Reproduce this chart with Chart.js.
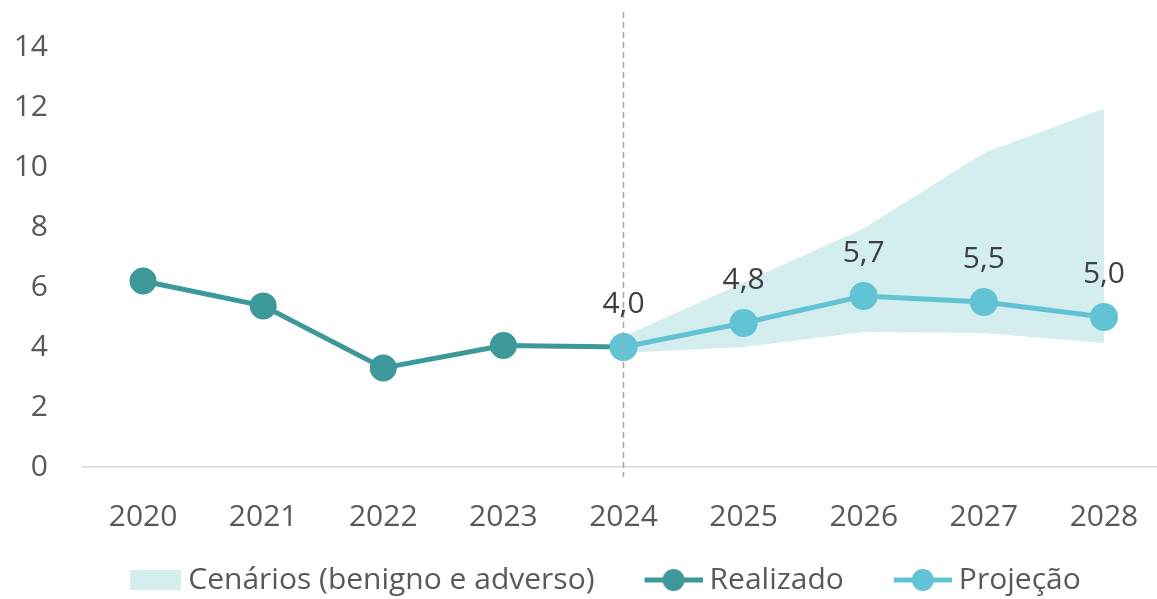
<!DOCTYPE html>
<html>
<head>
<meta charset="utf-8">
<script src="https://cdn.jsdelivr.net/npm/chart.js@4/dist/chart.umd.min.js"></script>
<style>
    html, body { margin: 0; padding: 0; background: #fff; overflow: hidden; }
    #wrap { width: 1157px; height: 599px; overflow: hidden; }
    #wrap canvas { display: block; }
</style>
</head>
<body>
<div id="wrap"><canvas id="chart" width="1164" height="599"></canvas></div>
<script>
const years = ['2020', '2021', '2022', '2023', '2024', '2025', '2026', '2027', '2028']
const realizado = [6.2, 5.37, 3.3, 4.05, 4.0, null, null, null, null]
const projecao = [null, null, null, null, 4.0, 4.8, 5.7, 5.5, 5.0]
const cenarioMin = [null, null, null, null, 3.8, 4.0, 4.5, 4.47, 4.13]
const cenarioMax = [null, null, null, null, 4.35, 6.15, 7.95, 10.47, 11.95]
const yTicks = [0, 2, 4, 6, 8, 10, 12, 14]

const fontName = '"Open Sans", "Noto Sans", sans-serif'
const tealDark = '#3D9899'
const tealLight = '#62C3D4'
const bandColor = '#D4EDEF'

// legend markers: drawn at the right end of an 80px canvas so the text sits close
function lineMarker(color) {
    const c = document.createElement('canvas')
    c.width = 80
    c.height = 24
    const ctx = c.getContext('2d')
    ctx.strokeStyle = color
    ctx.lineWidth = 5
    ctx.beginPath()
    ctx.moveTo(22, 12)
    ctx.lineTo(80, 12)
    ctx.stroke()
    ctx.fillStyle = color
    ctx.beginPath()
    ctx.arc(51, 12, 11, 0, Math.PI * 2)
    ctx.fill()
    return c
}

function boxMarker(color) {
    const c = document.createElement('canvas')
    c.width = 80
    c.height = 20
    const ctx = c.getContext('2d')
    ctx.fillStyle = color
    ctx.fillRect(29, 0, 51, 20)
    return c
}

const markers = [boxMarker(bandColor), null, lineMarker(tealDark), lineMarker(tealLight)]

const legendHeight = {
    id: 'legendHeight',
    beforeLayout(chart) {
        const lg = chart.legend
        if (lg && !lg._fixed) {
            const fit = lg.fit
            lg.fit = function () {
                fit.call(this)
                this.height = 70
            }
            lg._fixed = true
        }
    },
    afterLayout(chart) {
        // nudge the legend a little to the right
        chart.legend.left += 13
        chart.legend.right += 13
    }
}

const dividerLine = {
    id: 'dividerLine',
    afterDatasetsDraw(chart) {
        const ctx = chart.ctx
        const x = chart.scales.x.getPixelForValue(4)
        ctx.save()
        ctx.strokeStyle = '#A6A6A6'
        ctx.lineWidth = 1.5
        ctx.setLineDash([6, 4])
        ctx.beginPath()
        ctx.moveTo(x, 12)
        ctx.lineTo(x, chart.chartArea.bottom + 10)
        ctx.stroke()
        ctx.restore()
    }
}

const valueLabels = {
    id: 'valueLabels',
    afterDatasetsDraw(chart) {
        const ctx = chart.ctx
        const meta = chart.getDatasetMeta(3)
        ctx.save()
        ctx.font = '30px ' + fontName
        ctx.fillStyle = '#404040'
        ctx.textAlign = 'center'
        ctx.textBaseline = 'middle'
        meta.data.forEach((pt, i) => {
            const v = projecao[i]
            if (v === null) return
            ctx.fillText(v.toFixed(1).replace('.', ','), pt.x, pt.y - 43)
        })
        ctx.restore()
    }
}

new Chart(document.getElementById('chart'), {
    type: 'line',
    data: {
        labels: years,
        datasets: [
            {
                label: 'Cenários (benigno e adverso)',
                data: cenarioMax,
                borderWidth: 0,
                pointRadius: 0,
                backgroundColor: bandColor,
                fill: '+1',
                order: 3
            },
            {
                label: 'min',
                data: cenarioMin,
                borderWidth: 0,
                pointRadius: 0,
                fill: false,
                order: 3
            },
            {
                label: 'Realizado',
                data: realizado,
                borderColor: tealDark,
                backgroundColor: tealDark,
                borderWidth: 5,
                pointRadius: 11,
                pointHoverRadius: 11,
                order: 2
            },
            {
                label: 'Projeção',
                data: projecao,
                borderColor: tealLight,
                backgroundColor: tealLight,
                borderWidth: 5,
                pointRadius: 11.5,
                pointHoverRadius: 11.5,
                order: 1
            }
        ]
    },
    options: {
        responsive: false,
        animation: false,
        layout: {
            autoPadding: false,
            padding: { top: 47, left: 0, right: 0, bottom: 0 }
        },
        plugins: {
            legend: {
                position: 'bottom',
                labels: {
                    usePointStyle: true,
                    pointStyleWidth: 64,
                    padding: 36,
                    color: '#595959',
                    font: { family: fontName, size: 30 },
                    filter: item => item.datasetIndex !== 1,
                    generateLabels: chart => chart.data.datasets.map((ds, i) => ({
                        text: ds.label,
                        datasetIndex: i,
                        pointStyle: markers[i],
                        fillStyle: 'transparent',
                        strokeStyle: 'transparent',
                        lineWidth: 0,
                        fontColor: '#595959'
                    }))
                }
            },
            tooltip: { enabled: false }
        },
        scales: {
            x: {
                offset: true,
                afterFit: scale => { scale.height = 62 },
                grid: { display: false },
                border: { color: '#D9D9D9', width: 1.5 },
                ticks: {
                    color: '#595959',
                    padding: 24,
                    font: { family: fontName, size: 30 }
                }
            },
            y: {
                min: 0,
                max: 14,
                afterFit: scale => { scale.width = 83 },
                afterBuildTicks: scale => { scale.ticks = yTicks.map(v => ({ value: v })) },
                grid: { display: false },
                border: { display: false },
                ticks: {
                    color: '#595959',
                    padding: 27,
                    font: { family: fontName, size: 30 }
                }
            }
        }
    },
    plugins: [legendHeight, dividerLine, valueLabels]
})
</script>
</body>
</html>
